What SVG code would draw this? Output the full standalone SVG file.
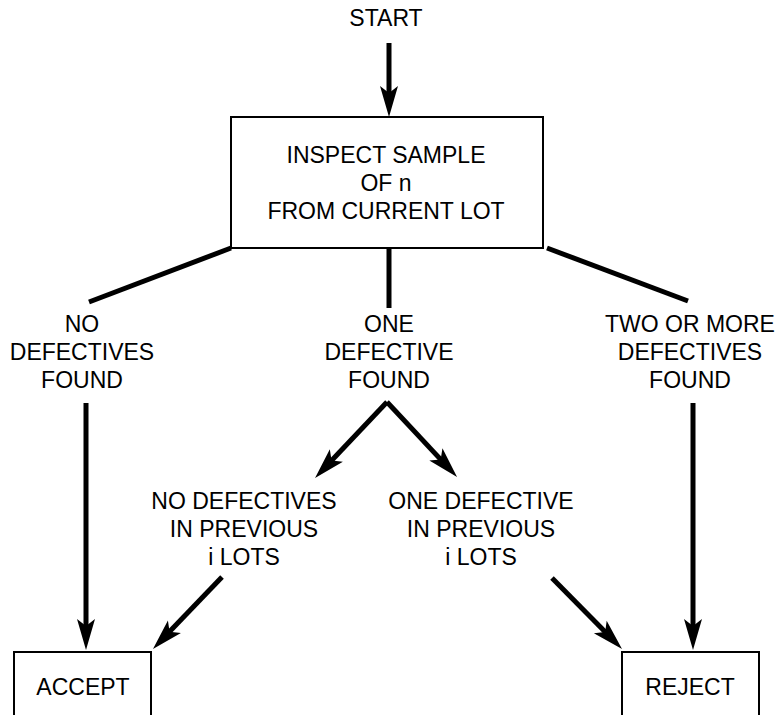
<svg xmlns="http://www.w3.org/2000/svg" width="778" height="715" viewBox="0 0 778 715">
<style>
text{font-family:"Liberation Sans",Arial,Helvetica,sans-serif;font-size:23px;fill:#000;text-anchor:middle}
.box{fill:#fff;stroke:#000;stroke-width:2}
.ln{stroke:#000;stroke-width:5;fill:none}
</style>
<defs>
<marker id="ah" markerUnits="userSpaceOnUse" markerWidth="34" markerHeight="22" viewBox="-32 -11 34 22" refX="-20" refY="0" orient="auto">
<path d="M0,0 L-31,-9 L-24,0 L-31,9 Z" fill="#000"/>
</marker>
</defs>
<rect width="778" height="715" fill="#fff"/>
<g id="connectors">
<line class="ln" x1="389" y1="43" x2="389" y2="97" marker-end="url(#ah)"/>
<line class="ln" x1="231" y1="248" x2="89" y2="302"/>
<line class="ln" x1="389" y1="249" x2="389" y2="308"/>
<line class="ln" x1="547" y1="248" x2="688" y2="301"/>
<line class="ln" x1="387" y1="402" x2="328.8" y2="463.5" marker-end="url(#ah)"/>
<line class="ln" x1="387" y1="402" x2="443.4" y2="462.4" marker-end="url(#ah)"/>
<line class="ln" x1="86" y1="403" x2="86" y2="630" marker-end="url(#ah)"/>
<line class="ln" x1="693" y1="403" x2="693" y2="630" marker-end="url(#ah)"/>
<line class="ln" x1="222" y1="577" x2="166.8" y2="634.6" marker-end="url(#ah)"/>
<line class="ln" x1="552" y1="578" x2="608" y2="634.8" marker-end="url(#ah)"/>
</g>
<g id="start"><text x="386" y="26">START</text></g>
<g id="inspect">
<rect class="box" x="231" y="117" width="312" height="131"/>
<text x="386" y="163">INSPECT SAMPLE</text>
<text x="386" y="191">OF n</text>
<text x="386" y="219">FROM CURRENT LOT</text>
</g>
<g id="no-defectives">
<text x="82" y="332">NO</text>
<text x="82" y="360">DEFECTIVES</text>
<text x="82" y="388">FOUND</text>
</g>
<g id="one-defective">
<text x="389" y="332">ONE</text>
<text x="389" y="360">DEFECTIVE</text>
<text x="389" y="388">FOUND</text>
</g>
<g id="two-or-more">
<text x="690" y="332">TWO OR MORE</text>
<text x="690" y="360">DEFECTIVES</text>
<text x="690" y="388">FOUND</text>
</g>
<g id="no-previous">
<text x="244" y="509">NO DEFECTIVES</text>
<text x="244" y="537">IN PREVIOUS</text>
<text x="244" y="565">i LOTS</text>
</g>
<g id="one-previous">
<text x="481" y="509">ONE DEFECTIVE</text>
<text x="481" y="537">IN PREVIOUS</text>
<text x="481" y="565">i LOTS</text>
</g>
<g id="accept">
<rect class="box" x="14" y="652" width="137" height="70"/>
<text x="83" y="695">ACCEPT</text>
</g>
<g id="reject">
<rect class="box" x="622" y="652" width="137" height="70"/>
<text x="690" y="695">REJECT</text>
</g>
</svg>
